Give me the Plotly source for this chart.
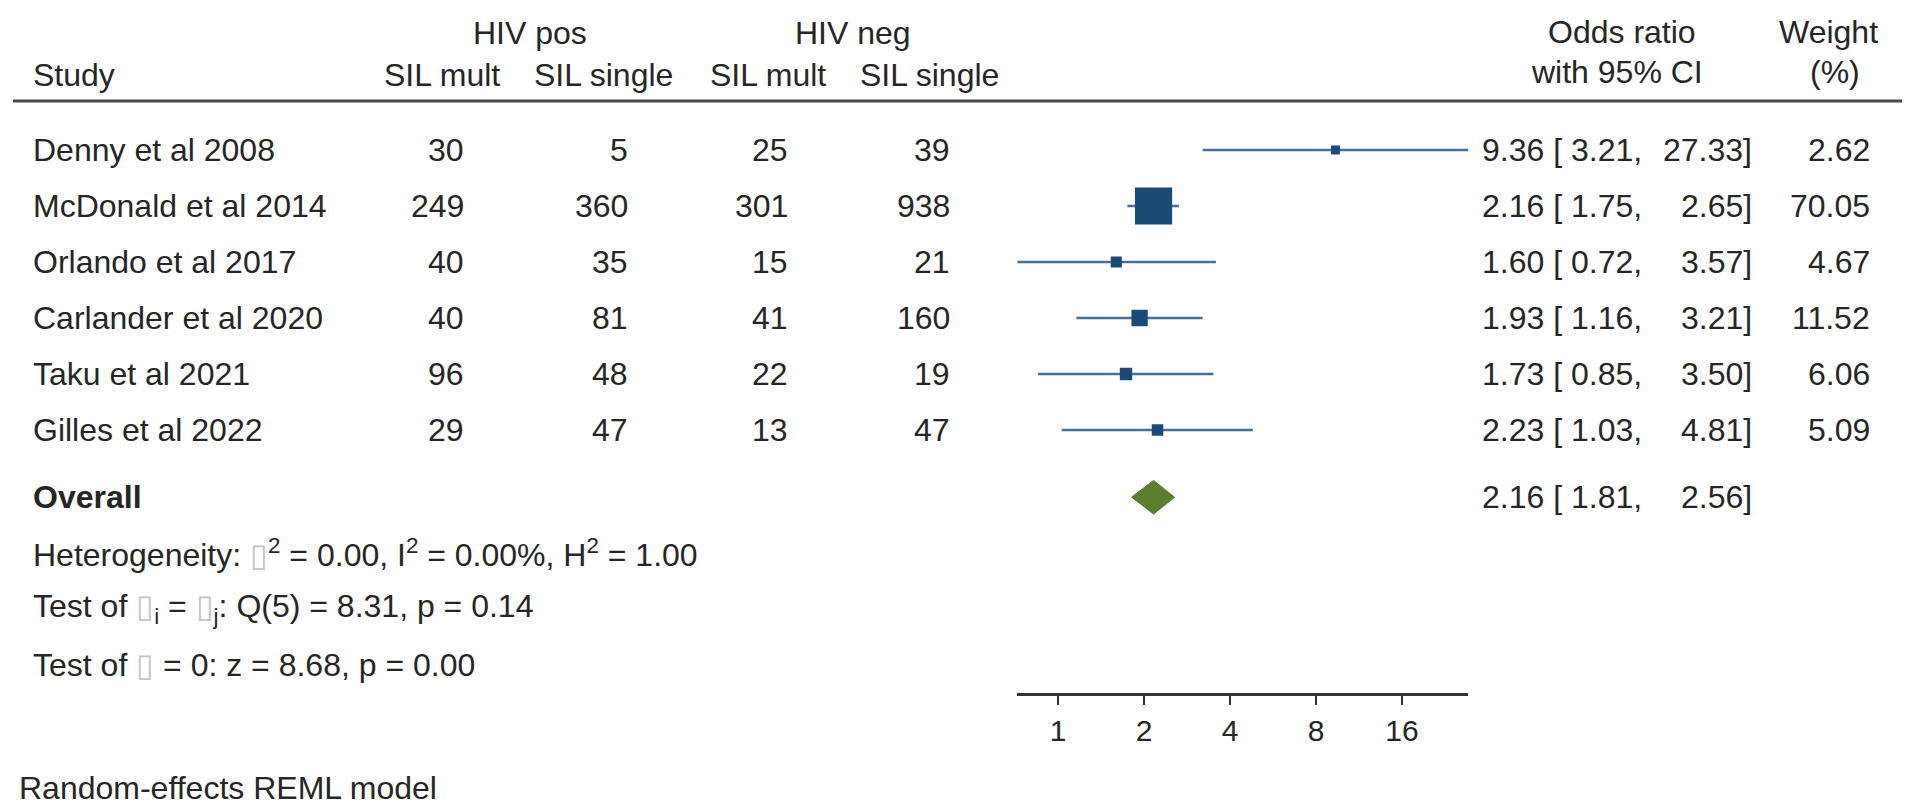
import math
import plotly.graph_objects as go

# %% DATA
studies = ["Denny et al 2008", "McDonald et al 2014", "Orlando et al 2017",
           "Carlander et al 2020", "Taku et al 2021", "Gilles et al 2022"]
pos_mult = [30, 249, 40, 40, 96, 29]
pos_single = [5, 360, 35, 81, 48, 47]
neg_mult = [25, 301, 15, 41, 22, 13]
neg_single = [39, 938, 21, 160, 19, 47]
odds_ratio = [9.36, 2.16, 1.60, 1.93, 1.73, 2.23]
ci_low = [3.21, 1.75, 0.72, 1.16, 0.85, 1.03]
ci_high = [27.33, 2.65, 3.57, 3.21, 3.50, 4.81]
weights = [2.62, 70.05, 4.67, 11.52, 6.06, 5.09]
overall_or = 2.16
overall_low = 1.81
overall_high = 2.56
tick_vals = [1, 2, 4, 8, 16]

# %% LAYOUT HELPERS
W, H = 1908, 810
FONT = "Liberation Sans, Arial, sans-serif"
TXT = "#262626"
FS = 32
row_px0, row_step = 150, 56          # pixel y of first row, row spacing
overall_row = 6.2


def px(x):  # pixel x -> paper
    return x / W


def py(y):  # pixel y -> paper
    return 1 - y / H


fig = go.Figure()

# confidence intervals
xs, ys = [], []
for i in range(len(studies)):
    xs += [ci_low[i], ci_high[i], None]
    ys += [i, i, None]
fig.add_trace(go.Scatter(x=xs, y=ys, mode="lines", line=dict(color="#4a6f96", width=2.5),
                         hoverinfo="skip", showlegend=False))

# study squares, side grows with sqrt(weight)
fig.add_trace(go.Scatter(x=odds_ratio, y=list(range(len(studies))), mode="markers",
                         marker=dict(symbol="square", color="#1b4a76", opacity=1,
                                     size=[4.2 * math.sqrt(w) + 2 for w in weights],
                                     line=dict(width=0)),
                         showlegend=False))

# overall diamond
dh = 0.3
fig.add_trace(go.Scatter(x=[overall_low, overall_or, overall_high, overall_or, overall_low],
                         y=[overall_row, overall_row - dh, overall_row, overall_row + dh, overall_row],
                         mode="lines", fill="toself", fillcolor="#5a7d2e",
                         line=dict(color="#5a7d2e", width=1), showlegend=False))

ann = []


def add_text(text, x, y, anchor="left", yref="y", bold=False, size=FS):
    ann.append(dict(text=f"<b>{text}</b>" if bold else text, x=px(x), y=y, xref="paper", yref=yref,
                    xanchor=anchor, yanchor="middle", showarrow=False,
                    font=dict(family=FONT, size=size, color=TXT)))


# headers
add_text("HIV pos", 530, py(33), "center", "paper")
add_text("HIV neg", 853, py(33), "center", "paper")
add_text("Study", 31, py(75), "left", "paper")
add_text("SIL mult", 442, py(75), "center", "paper")
add_text("SIL single", 603, py(75), "center", "paper")
add_text("SIL mult", 768, py(75), "center", "paper")
add_text("SIL single", 929, py(75), "center", "paper")
add_text("Odds ratio", 1622, py(32), "center", "paper")
add_text("with 95% CI", 1617, py(72), "center", "paper")
add_text("Weight", 1828, py(32), "center", "paper")
add_text("(%)", 1835, py(72), "center", "paper")

# study rows
for i, s in enumerate(studies):
    add_text(s, 31, i)
    add_text(str(pos_mult[i]), 466, i, "right")
    add_text(str(pos_single[i]), 630, i, "right")
    add_text(str(neg_mult[i]), 790, i, "right")
    add_text(str(neg_single[i]), 952, i, "right")
    add_text(f"{odds_ratio[i]:.2f} [ {ci_low[i]:.2f},", 1480, i)
    add_text(f"{ci_high[i]:.2f}]", 1754, i, "right")
    add_text(f"{weights[i]:.2f}", 1872, i, "right")

# overall row
add_text("Overall", 31, overall_row, bold=True)
add_text(f"{overall_or:.2f} [ {overall_low:.2f},", 1480, overall_row)
add_text(f"{overall_high:.2f}]", 1754, overall_row, "right")

box = "<span style='color:#c4c4c4'>▯</span>"
add_text(f"Heterogeneity: {box}<sup>2</sup> = 0.00, I<sup>2</sup> = 0.00%, H<sup>2</sup> = 1.00", 31, 7.2)
add_text(f"Test of {box}<sub>i</sub> = {box}<sub>j</sub>: Q(5) = 8.31, p = 0.14", 31, 8.18)
add_text(f"Test of {box} = 0: z = 8.68, p = 0.00", 31, 9.2)
add_text("Random-effects REML model", 17, py(788), "left", "paper")

# axis range from the CI extremes, placed so 1 -> 1058px and 16 -> 1402px
lo, hi = min(ci_low), max(ci_high)
per_doubling = (1402 - 1058) / 4
x_left = 1058 + per_doubling * math.log2(lo)
x_right = 1058 + per_doubling * math.log2(hi)

fig.update_layout(
    width=W, height=H, autosize=False,
    margin=dict(l=0, r=0, t=0, b=0),
    paper_bgcolor="white", plot_bgcolor="white",
    annotations=ann,
    shapes=[dict(type="line", xref="paper", yref="paper", x0=px(13), x1=px(1902),
                 y0=py(101), y1=py(101), line=dict(color="#4a4a4a", width=3))],
    xaxis=dict(type="log", range=[math.log10(lo), math.log10(hi)],
               domain=[px(x_left), px(x_right)], anchor="free", position=py(694),
               showgrid=False, zeroline=False, showline=True, linecolor="#333", linewidth=2.5,
               ticks="outside", ticklen=9, tickwidth=2, tickcolor="#333",
               tickvals=tick_vals, ticktext=[str(t) for t in tick_vals],
               tickfont=dict(family=FONT, size=30, color=TXT)),
    yaxis=dict(range=[(H - row_px0) / row_step, -row_px0 / row_step], domain=[0, 1],
               visible=False, showgrid=False, zeroline=False),
    showlegend=False,
)

# drop the browser's default body margin so pixel positions line up
fig.write_html("out.html", config={"displayModeBar": False},
               post_script="document.body.style.margin='0px';")
